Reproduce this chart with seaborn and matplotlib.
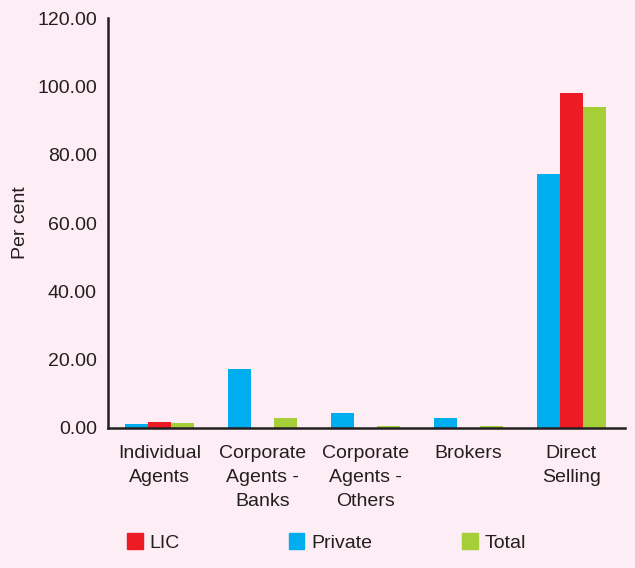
import pandas as pd
import matplotlib.pyplot as plt
import seaborn as sns
from matplotlib.patches import Patch

categories = ["Individual\nAgents", "Corporate\nAgents -\nBanks", "Corporate\nAgents -\nOthers", "Brokers", "Direct\nSelling"]
private = [1.3, 17.3, 4.3, 2.9, 74.5]
lic = [1.8, 0.0, 0.0, 0.0, 98.2]
total = [1.6, 3.0, 0.6, 0.5, 94.0]
series = ["Private", "LIC", "Total"]
colors = {"Private": "#00aeef", "LIC": "#ed1c24", "Total": "#a6ce39"}

df = pd.DataFrame({
    "channel": categories * 3,
    "insurer": ["Private"] * 5 + ["LIC"] * 5 + ["Total"] * 5,
    "value": private + lic + total,
})

bg = "#fdedf4"
ink = "#231f20"
fs = 14
sns.set_style("white")
plt.rcParams["font.family"] = ["Liberation Sans", "DejaVu Sans"]

fig = plt.figure(figsize=(6.35, 5.68), dpi=100, facecolor=bg)
ax = fig.add_axes([0.170, 0.2465, 0.814, 0.7215])
ax.set_facecolor(bg)

sns.barplot(data=df, x="channel", y="value", hue="insurer", order=categories,
            hue_order=series, palette=colors, width=0.67, saturation=1,
            linewidth=0, ax=ax, legend=False)

ax.set_ylim(0, 120)
ax.set_xlim(-0.5, 4.52)
ax.set_yticks(range(0, 121, 20))
ax.set_yticklabels([f"{v:.2f}" for v in range(0, 121, 20)], fontsize=fs, color=ink)
ax.set_xticks(range(5))
ax.set_xticklabels(categories, fontsize=fs, color=ink, linespacing=1.56)
ax.tick_params(axis="x", which="major", length=0, pad=12)
ax.set_xticks([-0.5, 0.5, 1.5, 2.5, 3.5, 4.5], minor=True)
ax.tick_params(axis="x", which="minor", length=6, width=1.5, color=ink)
ax.tick_params(axis="y", length=6, width=1.5, color=ink, pad=2)
ax.set_xlabel("")
ax.set_ylabel("Per cent", fontsize=fs, color=ink, labelpad=6)

for s in ["top", "right"]:
    ax.spines[s].set_visible(False)
for s in ["left", "bottom"]:
    ax.spines[s].set_color(ink)
    ax.spines[s].set_linewidth(1.8)

# legend entries placed one by one to match the spread-out layout
legend_x = {"LIC": 0.200, "Private": 0.455, "Total": 0.7276}
for name, x in legend_x.items():
    fig.legend([Patch(color=colors[name])], [name], loc="center left",
               bbox_to_anchor=(x, 0.045), frameon=False, fontsize=fs,
               handlelength=0.8, handleheight=0.85, handletextpad=0.35,
               borderpad=0, borderaxespad=0, labelcolor=ink)

fig.savefig("out.png", dpi=100, facecolor=bg)
